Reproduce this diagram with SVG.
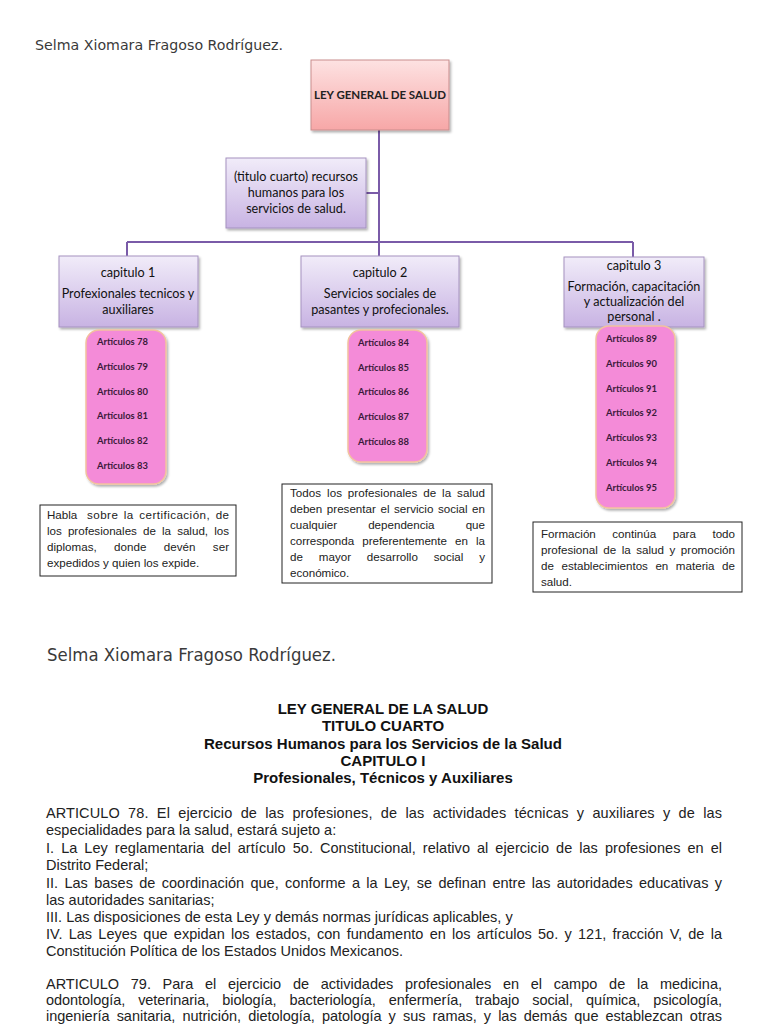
<svg xmlns="http://www.w3.org/2000/svg" width="768" height="1024" viewBox="0 0 768 1024">
<defs>
<linearGradient id="gPink" x1="0" y1="0" x2="0" y2="1"><stop offset="0" stop-color="#fde2e2"/><stop offset="1" stop-color="#f7a7a7"/></linearGradient>
<linearGradient id="gLav" x1="0" y1="0" x2="0" y2="1"><stop offset="0" stop-color="#f1ecf9"/><stop offset="1" stop-color="#c8b3e3"/></linearGradient>
<filter id="sh" x="-10%" y="-10%" width="130%" height="130%"><feDropShadow dx="1.5" dy="2" stdDeviation="1.2" flood-color="#000" flood-opacity="0.3"/></filter>
</defs>
<style>
.name{font-family:"DejaVu Sans","Liberation Sans",sans-serif;fill:#3a3a3a}
.lbl{font-family:Lato,"Open Sans",sans-serif;font-size:12.6px;fill:#111;text-anchor:middle}
.title{font-family:Lato,"Open Sans",sans-serif;font-size:11.5px;font-weight:bold;fill:#222;text-anchor:middle}
.art{font-family:Lato,"Open Sans",sans-serif;font-size:9.4px;font-weight:bold;fill:#3a1a3a}
.pill{fill:#f48bd8;stroke:#f2c29e;stroke-width:1.5;filter:url(#sh)}
.lav{fill:url(#gLav);stroke:#a592bf;stroke-width:1;filter:url(#sh)}
.note{fill:#fff;stroke:#222;stroke-width:1}
.nt{font-family:"Liberation Sans",Arial,sans-serif;font-size:11.6px;fill:#222}
.hd{font-family:"Liberation Sans",Arial,sans-serif;font-size:15px;font-weight:bold;fill:#111;text-anchor:middle}
.bd{font-family:"Liberation Sans",Arial,sans-serif;font-size:14.5px;fill:#222}
.con{stroke:#7a5ba8;stroke-width:2;fill:none}
</style>
<rect width="768" height="1024" fill="#fff"/>
<text class="name" x="35" y="50" font-size="14" textLength="248" lengthAdjust="spacingAndGlyphs">Selma Xiomara Fragoso Rodríguez.</text>

<g id="connectors">
<path class="con" d="M379,130 V242 M366,193 H379 M127,242 H633 M127,242 V256 M379,242 V256 M633,242 V257"/>
</g>

<g id="ley">
<rect x="311" y="60" width="138" height="70" fill="url(#gPink)" stroke="#c98d8d" stroke-width="1" filter="url(#sh)"/>
<text class="title" x="380" y="99">LEY GENERAL DE SALUD</text>
</g>

<g id="titulo">
<rect class="lav" x="226" y="158" width="140" height="70"/>
<text class="lbl" x="296" y="181">(titulo cuarto) recursos</text>
<text class="lbl" x="296" y="197">humanos para los</text>
<text class="lbl" x="296" y="213">servicios de salud.</text>
</g>

<g id="cap1">
<rect class="lav" x="59" y="256" width="139" height="71"/>
<text class="lbl" x="128" y="277">capitulo 1</text>
<text class="lbl" x="128" y="298">Profexionales tecnicos y</text>
<text class="lbl" x="128" y="314">auxiliares</text>
</g>

<g id="cap2">
<rect class="lav" x="301" y="256" width="158" height="71"/>
<text class="lbl" x="380" y="277">capitulo 2</text>
<text class="lbl" x="380" y="298">Servicios sociales de</text>
<text class="lbl" x="380" y="314">pasantes y profecionales.</text>
</g>

<g id="cap3">
<rect class="lav" x="564" y="257" width="140" height="70"/>
<text class="lbl" x="634" y="270">capitulo 3</text>
<text class="lbl" x="634" y="291">Formación, capacitación</text>
<text class="lbl" x="634" y="306">y actualización del</text>
<text class="lbl" x="634" y="321">personal .</text>
</g>

<g id="arts1">
<rect class="pill" x="86" y="330" width="80" height="154" rx="13"/>
<text class="art" x="97" y="345">Artículos 78</text>
<text class="art" x="97" y="370">Artículos 79</text>
<text class="art" x="97" y="395">Artículos 80</text>
<text class="art" x="97" y="419">Artículos 81</text>
<text class="art" x="97" y="444">Artículos 82</text>
<text class="art" x="97" y="469">Artículos 83</text>
</g>

<g id="arts2">
<rect class="pill" x="348" y="330" width="79" height="132" rx="13"/>
<text class="art" x="358" y="346">Artículos 84</text>
<text class="art" x="358" y="371">Artículos 85</text>
<text class="art" x="358" y="395">Artículos 86</text>
<text class="art" x="358" y="420">Artículos 87</text>
<text class="art" x="358" y="445">Artículos 88</text>
</g>

<g id="arts3">
<rect class="pill" x="596" y="326" width="79" height="182" rx="13"/>
<text class="art" x="606" y="342">Artículos 89</text>
<text class="art" x="606" y="367">Artículos 90</text>
<text class="art" x="606" y="392">Artículos 91</text>
<text class="art" x="606" y="416">Artículos 92</text>
<text class="art" x="606" y="441">Artículos 93</text>
<text class="art" x="606" y="466">Artículos 94</text>
<text class="art" x="606" y="491">Artículos 95</text>
</g>

<g id="nota1">
<rect class="note" x="40" y="505" width="196" height="71"/>
<text class="nt" x="47" y="519">Habla</text>
<text class="nt" x="87" y="519" word-spacing="1.8" textLength="142" lengthAdjust="spacing">sobre la certificación, de</text>
<text class="nt" x="47" y="535" word-spacing="2.9" textLength="182" lengthAdjust="spacing">los profesionales de la salud, los</text>
<text class="nt" x="47" y="551" word-spacing="14.2" textLength="182" lengthAdjust="spacing">diplomas, donde devén ser</text>
<text class="nt" x="47" y="567">expedidos y quien los expide.</text>
</g>

<g id="nota2">
<rect class="note" x="282" y="484" width="210" height="99"/>
<text class="nt" x="290" y="497" word-spacing="2.6" textLength="195" lengthAdjust="spacing">Todos los profesionales de la salud</text>
<text class="nt" x="290" y="513" word-spacing="1.3" textLength="195" lengthAdjust="spacing">deben presentar el servicio social en</text>
<text class="nt" x="290" y="529" word-spacing="27.9" textLength="195" lengthAdjust="spacing">cualquier dependencia que</text>
<text class="nt" x="290" y="545" word-spacing="5" textLength="195" lengthAdjust="spacing">corresponda preferentemente en la</text>
<text class="nt" x="290" y="561" word-spacing="12.6" textLength="195" lengthAdjust="spacing">de mayor desarrollo social y</text>
<text class="nt" x="290" y="577">económico.</text>
</g>

<g id="nota3">
<rect class="note" x="533" y="522" width="209" height="70"/>
<text class="nt" x="541" y="538" word-spacing="13.3" textLength="194" lengthAdjust="spacing">Formación continúa para todo</text>
<text class="nt" x="541" y="554" word-spacing="2.3" textLength="194" lengthAdjust="spacing">profesional de la salud y promoción</text>
<text class="nt" x="541" y="570" word-spacing="4.3" textLength="194" lengthAdjust="spacing">de establecimientos en materia de</text>
<text class="nt" x="541" y="586">salud.</text>
</g>

<text class="name" x="47" y="661" font-size="17" textLength="289" lengthAdjust="spacingAndGlyphs">Selma Xiomara Fragoso Rodríguez.</text>

<g id="encabezado">
<text class="hd" x="383" y="714">LEY GENERAL DE LA SALUD</text>
<text class="hd" x="383" y="731">TITULO CUARTO</text>
<text class="hd" x="383" y="749" textLength="358" lengthAdjust="spacingAndGlyphs">Recursos Humanos para los Servicios de la Salud</text>
<text class="hd" x="383" y="766">CAPITULO I</text>
<text class="hd" x="383" y="783">Profesionales, Técnicos y Auxiliares</text>
</g>

<g id="cuerpo">
<text class="bd" x="46" y="818" word-spacing="4.2" textLength="676" lengthAdjust="spacing">ARTICULO 78. El ejercicio de las profesiones, de las actividades técnicas y auxiliares y de las</text>
<text class="bd" x="46" y="835">especialidades para la salud, estará sujeto a:</text>
<text class="bd" x="46" y="853" word-spacing="2.9" textLength="676" lengthAdjust="spacing">I. La Ley reglamentaria del artículo 5o. Constitucional, relativo al ejercicio de las profesiones en el</text>
<text class="bd" x="46" y="870">Distrito Federal;</text>
<text class="bd" x="46" y="888" word-spacing="2.3" textLength="676" lengthAdjust="spacing">II. Las bases de coordinación que, conforme a la Ley, se definan entre las autoridades educativas y</text>
<text class="bd" x="46" y="905">las autoridades sanitarias;</text>
<text class="bd" x="46" y="922">III. Las disposiciones de esta Ley y demás normas jurídicas aplicables, y</text>
<text class="bd" x="46" y="939" word-spacing="2.2" textLength="676" lengthAdjust="spacing">IV. Las Leyes que expidan los estados, con fundamento en los artículos 5o. y 121, fracción V, de la</text>
<text class="bd" x="46" y="956">Constitución Política de los Estados Unidos Mexicanos.</text>
<text class="bd" x="46" y="989" word-spacing="7.7" textLength="676" lengthAdjust="spacing">ARTICULO 79. Para el ejercicio de actividades profesionales en el campo de la medicina,</text>
<text class="bd" x="46" y="1005" word-spacing="9" textLength="676" lengthAdjust="spacing">odontología, veterinaria, biología, bacteriología, enfermería, trabajo social, química, psicología,</text>
<text class="bd" x="46" y="1021" word-spacing="3.1" textLength="676" lengthAdjust="spacing">ingeniería sanitaria, nutrición, dietología, patología y sus ramas, y las demás que establezcan otras</text>
</g>
</svg>
